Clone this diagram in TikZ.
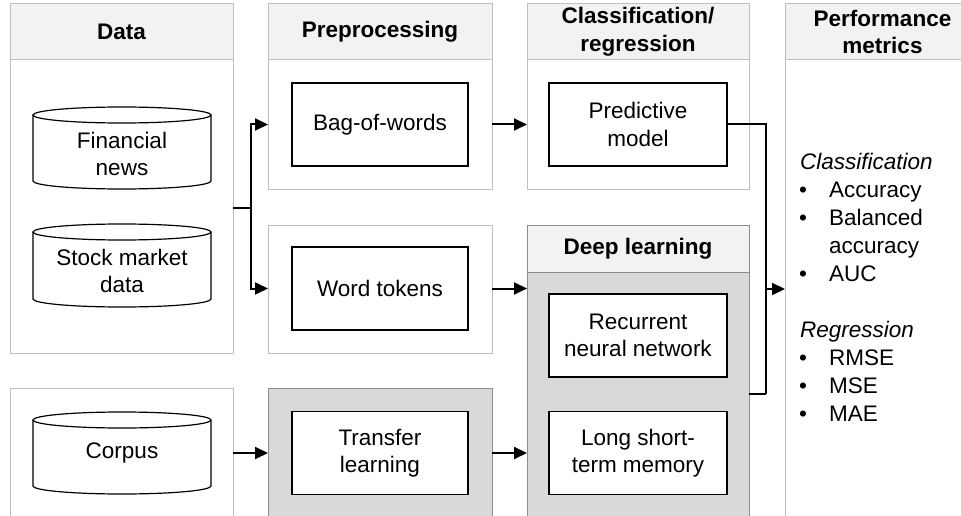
\documentclass[tikz,border=0pt]{standalone}
\usepackage{fontspec}
\setmainfont{Liberation Sans}
\usetikzlibrary{arrows.meta,calc}
\definecolor{pline}{HTML}{BFBFBF}
\definecolor{dline}{HTML}{8C8C8C}
\definecolor{hdrfill}{HTML}{F2F2F2}
\definecolor{darkfill}{HTML}{D9D9D9}
\newcommand\fnt{\fontsize{22.5pt}{27.6pt}\selectfont}
\newcommand\mycyl[6]{%
  \draw[cylline] (#2-89,#3+8) -- (#2-89,#4-8) arc[start angle=180,end angle=360,x radius=89pt,y radius=8pt] -- (#2+89,#3+8);
  \draw[cylline] (#2,#3+8) ellipse[x radius=89pt,y radius=8pt];
  \node[txt] (#1) at (#2,#5) {#6};
}
\begin{document}
\begin{tikzpicture}[x=1pt,y=-1pt,
  panel/.style={draw=pline, line width=1pt, rectangle, inner sep=0pt, outer sep=0pt, fill=white},
  dpanel/.style={panel, draw=dline, fill=darkfill},
  hdr/.style={panel, fill=hdrfill, font=\fnt\bfseries, align=center},
  box/.style={draw=black, line width=1.4pt, fill=white, rectangle, minimum width=176pt, minimum height=83pt, align=center, inner sep=0pt, outer sep=0pt, font=\fnt},
  txt/.style={align=center, inner sep=0pt, font=\fnt},
  cylline/.style={draw=black, line width=1.2pt, fill=white},
  met/.style={anchor=base west, inner sep=0pt, font=\fnt},
  conn/.style={draw=black, line width=2pt},
  arr/.style={conn, -{Triangle[length=13pt,width=12pt]}}]
\useasboundingbox (0,0) rectangle (961,516);
\clip (0,0) rectangle (961,516);
\fill[white] (0,0) rectangle (961,516);
% panels
\node[panel, minimum width=223pt, minimum height=349pt] (datap) at (121.5,178.5) {};
\node[hdr, minimum width=223pt, minimum height=56pt] (datah) at (121.5,32) {Data};
\node[panel, minimum width=224pt, minimum height=185pt] (prep1) at (380,96.5) {};
\node[hdr, minimum width=224pt, minimum height=56pt] (prep1h) at (380,32) {Preprocessing};
\node[panel, minimum width=222pt, minimum height=185pt] (clsp) at (638,96.5) {};
\node[hdr, minimum width=222pt, minimum height=56pt] (clsh) at (638,32) {Classification/\\regression};
\node[panel, minimum width=195pt, minimum height=526pt] (perf) at (882.5,267) {};
\node[hdr, minimum width=195pt, minimum height=56pt] (perfh) at (882.5,32) {Performance\\metrics};
\node[panel, minimum width=224pt, minimum height=128pt] (prep2) at (380,289) {};
\node[dpanel, minimum width=222pt, minimum height=258pt] (deepb) at (638,401) {};
\node[hdr, draw=dline, minimum width=222pt, minimum height=47pt] (deeph) at (638,248.5) {Deep learning};
\node[panel, minimum width=223pt, minimum height=142pt] (corp) at (121.5,459) {};
\node[dpanel, minimum width=224pt, minimum height=142pt] (trp) at (380,459) {};
% cylinders
\mycyl{fn}{122}{107}{189}{154}{Financial\\news}
\mycyl{smd}{122}{224}{307}{271}{Stock market\\data}
\mycyl{cp}{122}{412}{494}{453}{Corpus}
% boxes
\node[box] (bow) at (380,124.5) {Bag-of-words};
\node[box] (wt) at (380,288.5) {Word tokens};
\node[box] (tl) at (380,453) {Transfer\\learning};
\node[box, minimum width=178pt] (pm) at (638,124.5) {Predictive\\model};
\node[box, minimum width=178pt] (rnn) at (638,335.5) {Recurrent\\neural network};
\node[box, minimum width=178pt] (lstm) at (638,453) {Long short-\\term memory};
% metrics
\node[met] (mc) at (800,169) {\itshape Classification};
\node[met] (m1) at (799,197.1) {\makebox[30pt][l]{\textbullet}Accuracy};
\node[met] (m2) at (799,225.2) {\makebox[30pt][l]{\textbullet}Balanced};
\node[met] (m3) at (829,253.3) {accuracy};
\node[met] (m4) at (799,281.4) {\makebox[30pt][l]{\textbullet}AUC};
\node[met] (mr) at (800,337.6) {\itshape Regression};
\node[met] (m5) at (799,365.7) {\makebox[30pt][l]{\textbullet}RMSE};
\node[met] (m6) at (799,393.8) {\makebox[30pt][l]{\textbullet}MSE};
\node[met] (m7) at (799,421.9) {\makebox[30pt][l]{\textbullet}MAE};
% connectors
\coordinate (jct) at (251,208);
\draw[conn] (datap.east |- jct) -- (jct);
\draw[arr] (jct) |- (prep1.west |- bow);
\draw[arr] (jct) |- (prep2.west |- wt);
\draw[arr] (prep1.east |- bow) -- (clsp.west |- bow);
\draw[arr] (prep2.east |- wt) -- (deepb.west |- wt);
\draw[arr] (corp.east |- cp) -- (trp.west |- cp);
\draw[arr] (trp.east |- tl) -- (deepb.west |- tl);
\coordinate (jb) at (766,394);
\coordinate (j2) at (766,289);
\draw[conn] (pm.east) -| (jb);
\draw[conn] (deepb.east |- jb) -- (jb);
\draw[arr] (j2) -- (perf.west |- j2);
\end{tikzpicture}
\end{document}
